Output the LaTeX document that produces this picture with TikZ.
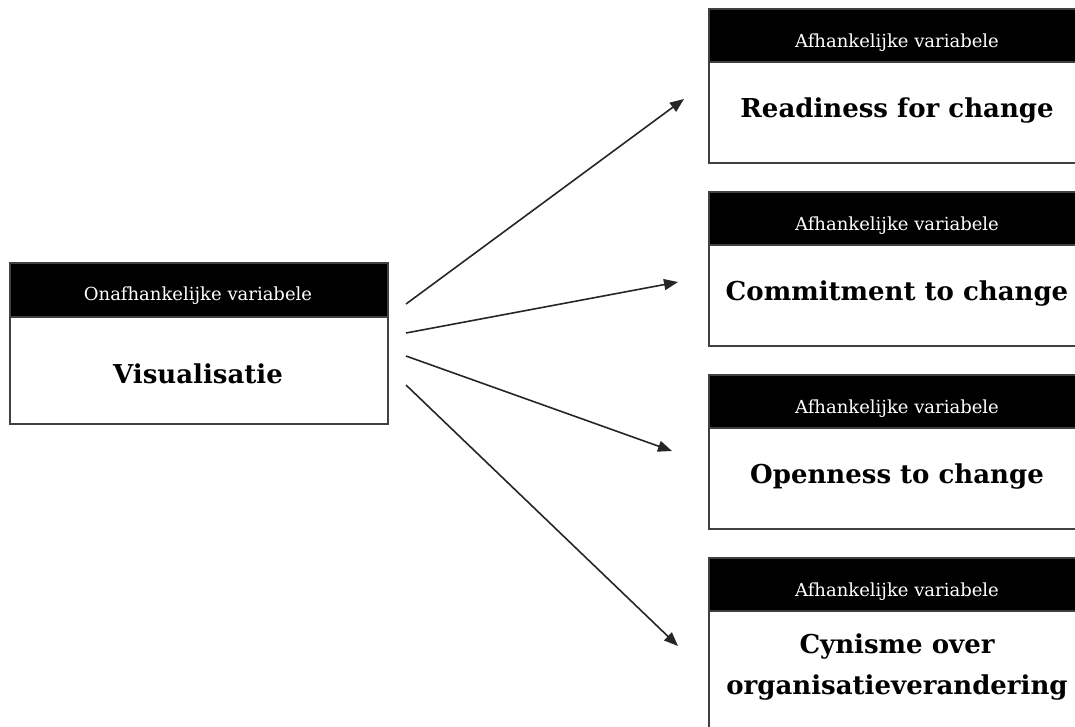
\documentclass[tikz,border=0pt]{standalone}
\usepackage{fontspec}
\setmainfont{DejaVu Serif}
\usetikzlibrary{arrows.meta}
\newfontfamily\hdrfamily{DejaVu Serif}
\newfontfamily\mainfamily{DejaVu Serif}
\begin{document}
\begin{tikzpicture}[x=1pt,y=-1pt,
  hdrbox/.style={fill=black,draw=black!75,line width=1.6pt,anchor=north west,inner sep=0pt,minimum width=378pt,minimum height=53pt},
  bodybox/.style={fill=white,draw=black!75,line width=1.6pt,anchor=north west,inner sep=0pt,minimum width=378pt},
  hdrtext/.style={anchor=base,inner sep=0pt,text=white,font=\hdrfamily\fontsize{18}{20}\selectfont},
  maintext/.style={anchor=base,inner sep=0pt,text=black,font=\mainfamily\bfseries\fontsize{26}{30}\selectfont},
  link/.style={line width=1.6pt,draw=black!85,-{Triangle[length=14pt,width=11pt]}}
]
\useasboundingbox (0,0) rectangle (1075,726);
\clip (0,0) rectangle (1075,726);

% left box
\node[bodybox,minimum height=107pt] (Lb) at (9,316) {};
\node[hdrbox,minimum height=54pt] (Lh) at (9,262) {};
\node[hdrtext] (Lht) at (198,300) {Onafhankelijke variabele};
\node[maintext] (Lbt) at (198,383) {Visualisatie};

% right boxes
\node[bodybox,minimum height=101pt] (B1b) at (708,61) {};
\node[hdrbox] (B1h) at (708,8) {};
\node[hdrtext] (B1ht) at (897,47) {Afhankelijke variabele};
\node[maintext] (B1t) at (897,117) {Readiness for change};

\node[bodybox,minimum height=101pt] (B2b) at (708,244) {};
\node[hdrbox] (B2h) at (708,191) {};
\node[hdrtext] (B2ht) at (897,230) {Afhankelijke variabele};
\node[maintext] (B2t) at (897,300) {Commitment to change};

\node[bodybox,minimum height=101pt] (B3b) at (708,427) {};
\node[hdrbox] (B3h) at (708,374) {};
\node[hdrtext] (B3ht) at (897,413) {Afhankelijke variabele};
\node[maintext] (B3t) at (897,483) {Openness to change};

\node[bodybox,minimum height=160pt] (B4b) at (708,610) {};
\node[hdrbox] (B4h) at (708,557) {};
\node[hdrtext] (B4ht) at (897,596) {Afhankelijke variabele};
\node[maintext] (B4t1) at (897,653) {Cynisme over};
\node[maintext] (B4t2) at (897,694) {organisatieverandering};

% arrows
\coordinate (s1) at (406,304); \coordinate (e1) at (684,99);
\coordinate (s2) at (406,333); \coordinate (e2) at (678,282);
\coordinate (s3) at (406,356); \coordinate (e3) at (672,451);
\coordinate (s4) at (406,385); \coordinate (e4) at (678,646);
\draw[link] (s1) -- (e1);
\draw[link] (s2) -- (e2);
\draw[link] (s3) -- (e3);
\draw[link] (s4) -- (e4);
\end{tikzpicture}
\end{document}
